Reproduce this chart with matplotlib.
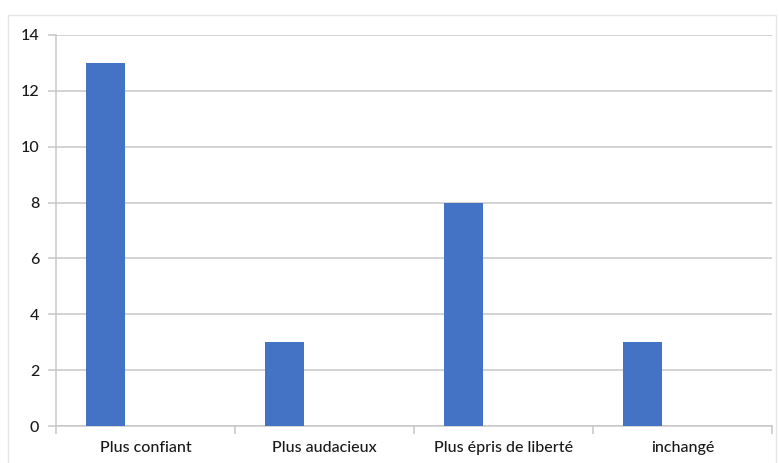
import matplotlib
matplotlib.use("Agg")
import matplotlib.pyplot as plt
from matplotlib.patches import Rectangle
import numpy as np

categories = ["Plus confiant", "Plus audacieux", "Plus épris de liberté", "inchangé"]
values = [13, 3, 8, 3]
yticks = [0, 2, 4, 6, 8, 10, 12, 14]

plt.rcParams['font.family'] = ['Lato', 'DejaVu Sans']
plt.rcParams['font.weight'] = 'medium'

W, H = 779, 463
fig = plt.figure(figsize=(W / 100, H / 100), dpi=100)
fig.patch.set_facecolor("white")

# light outer chart frame
fig.patches.append(Rectangle((8 / W, -0.05), 768 / W, 1 - 15 / H + 0.05,
                             transform=fig.transFigure, fill=False,
                             edgecolor="#e6e6e6", linewidth=1.0))

ax = fig.add_axes([56 / W, 1 - 426 / H, (772 - 56) / W, (426 - 35) / H])

x = np.arange(len(categories))
ax.bar(x - 0.2235, values, width=0.218, color="#4472c4", zorder=3)

ax.set_xlim(-0.5, len(categories) - 0.5)
ax.set_ylim(0, 14)
ax.set_yticks(yticks)
ax.set_yticklabels([str(v) for v in yticks], fontsize=11.5, color="#1a1a1a")
ax.yaxis.grid(True, color="#c8c8c8", linewidth=1.1, zorder=0)
ax.tick_params(axis="y", length=6, color="#c8c8c8", width=1.1, pad=6)

# category labels centred, tick marks at category boundaries
ax.set_xticks(np.arange(-0.5, len(categories), 1.0))
ax.set_xticklabels([])
ax.set_xticks(x, minor=True)
ax.set_xticklabels(categories, minor=True, fontsize=11.5, color="#1a1a1a")
ax.tick_params(axis="x", which="major", length=6, color="#c8c8c8", width=1.1)
ax.tick_params(axis="x", which="minor", length=0, pad=11)

for side in ["top", "right"]:
    ax.spines[side].set_visible(False)
for side in ["left", "bottom"]:
    ax.spines[side].set_color("#c8c8c8")
    ax.spines[side].set_linewidth(1.1)

fig.savefig("out.png", dpi=100)
